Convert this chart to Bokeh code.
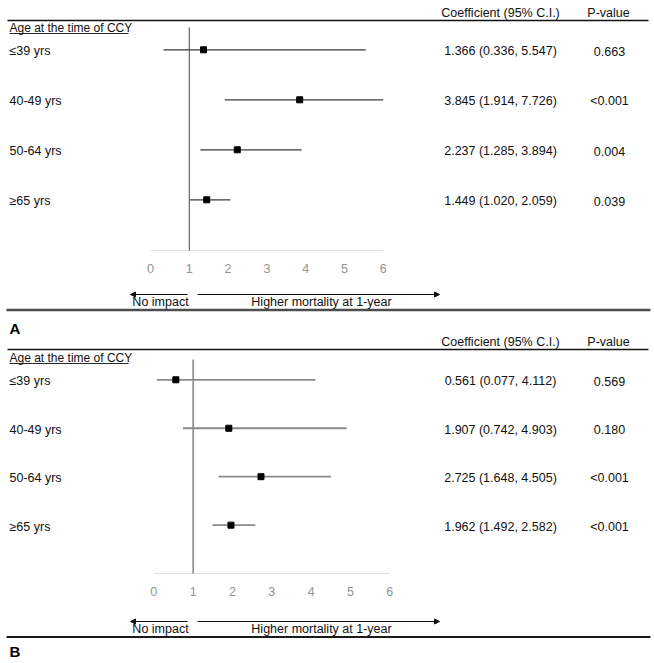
import numpy as np
from bokeh.plotting import figure
from bokeh.models import Range1d, ColumnDataSource, Arrow, NormalHead
from bokeh.core.properties import value
from bokeh.embed import file_html
from bokeh.resources import INLINE

# ---- data ----
ages = ["\u226439 yrs", "40-49 yrs", "50-64 yrs", "\u226565 yrs"]
coef_a = [1.366, 3.845, 2.237, 1.449]
low_a = [0.336, 1.914, 1.285, 1.020]
high_a = [5.547, 7.726, 3.894, 2.059]
p_a = ["0.663", "<0.001", "0.004", "0.039"]

coef_b = [0.561, 1.907, 2.725, 1.962]
low_b = [0.077, 0.742, 1.648, 1.492]
high_b = [4.112, 4.903, 4.505, 2.582]
p_b = ["0.569", "0.180", "<0.001", "<0.001"]

ticks = [0, 1, 2, 3, 4, 5, 6]
group_title = "Age at the time of CCY"
col_coef = "Coefficient (95% C.I.)"
col_p = "P-value"
arrow_left = "No impact"
arrow_right = "Higher mortality at 1-year"

# ---- layout (page pixels; the figure sits at the page origin) ----
W, H = 654, 663
PX0, PY0 = 0, 0
FONT = value("Liberation Sans")
FS = "12.5px"


def val_range(x_at0, px_per_unit):
    return Range1d((PX0 - x_at0) / px_per_unit, (PX0 + W - x_at0) / px_per_unit)


def row_range(y_first, dy):
    return Range1d((PY0 + H - y_first) / dy, (PY0 - y_first) / dy)


p = figure(width=W, height=H, min_border=0, output_backend="svg",
           toolbar_location=None, x_axis_location=None, y_axis_location=None,
           x_range=Range1d(PX0, PX0 + W), y_range=Range1d(PY0 + H, PY0))
p.grid.visible = False
p.outline_line_color = None
p.background_fill_color = "white"
p.border_fill_color = "white"

panels = [
    dict(name="A", coef=coef_a, low=low_a, high=high_a, pv=p_a,
         x0=150.0, ppu=38.8, y_first=49.3, dy=50.0,
         head_y=12.5, rule_top=20.0, title_y=27.0, vtop=27.0, base_y=250.0,
         tick_y=268.0, arrow_y=294.0, rule_bot=309.5, rule_bot_w=2.5,
         rule_bot_color="#4d4d4d", label_y=327.5, whisk="#3a3a3a", whisk_w=1.2),
    dict(name="B", coef=coef_b, low=low_b, high=high_b, pv=p_b,
         x0=153.3, ppu=39.33, y_first=379.3, dy=48.45,
         head_y=341.5, rule_top=349.0, title_y=357.0, vtop=359.0, base_y=573.0,
         tick_y=591.0, arrow_y=621.0, rule_bot=636.5, rule_bot_w=2.2,
         rule_bot_color="#1a1a1a", label_y=650.5, whisk="#8a8a8a", whisk_w=1.8),
]

xr = {}
yr = {}
for pan in panels:
    xr["v" + pan["name"]] = val_range(pan["x0"], pan["ppu"])
    yr["r" + pan["name"]] = row_range(pan["y_first"], pan["dy"])
p.extra_x_ranges = xr
p.extra_y_ranges = yr

for pan in panels:
    vx = "v" + pan["name"]
    ry = "r" + pan["name"]
    n = len(ages)
    idx = list(range(n))
    hi_clip = list(np.minimum(pan["high"], max(ticks)))
    src = ColumnDataSource(dict(
        row=idx, age=ages, coef=pan["coef"], low=pan["low"], high=hi_clip,
        ctext=[f"{c:.3f} ({l:.3f}, {h:.3f})" for c, l, h in zip(pan["coef"], pan["low"], pan["high"])],
        ptext=pan["pv"],
    ))

    # header texts and rules
    p.text(x=[500], y=[pan["head_y"]], text=[col_coef], text_font=FONT, text_font_size=FS,
           text_align="center", text_baseline="middle", text_color="#111111")
    p.text(x=[608], y=[pan["head_y"]], text=[col_p], text_font=FONT, text_font_size=FS,
           text_align="center", text_baseline="middle", text_color="#111111")
    p.segment(x0=[7], x1=[648], y0=[pan["rule_top"]], y1=[pan["rule_top"]],
              line_color="#111111", line_width=1.6)
    p.text(x=[9], y=[pan["title_y"]], text=[group_title], text_font=FONT, text_font_size="12px",
           text_align="left", text_baseline="middle", text_color="#111111")
    p.segment(x0=[9], x1=[128], y0=[pan["title_y"] + 6], y1=[pan["title_y"] + 6],
              line_color="#111111", line_width=0.9)

    # row labels and table values
    p.text(x=9, y="row", text="age", source=src, y_range_name=ry, text_font=FONT,
           text_font_size=FS, text_align="left", text_baseline="middle",
           y_offset=1.5, text_color="#111111")
    p.text(x=500, y="row", text="ctext", source=src, y_range_name=ry, text_font=FONT,
           text_font_size=FS, text_align="center", text_baseline="middle",
           y_offset=1.5, text_color="#111111")
    p.text(x=609, y="row", text="ptext", source=src, y_range_name=ry, text_font=FONT,
           text_font_size=FS, text_align="center", text_baseline="middle",
           y_offset=1.5, text_color="#111111")

    # axis baseline, reference line, ticks
    p.segment(x0=[min(ticks)], x1=[max(ticks)], y0=[pan["base_y"]], y1=[pan["base_y"]],
              x_range_name=vx, line_color="#e2e2e2", line_width=1.2)
    p.segment(x0=[1], x1=[1], y0=[pan["vtop"]], y1=[pan["base_y"]],
              x_range_name=vx, line_color="#555555", line_width=1.1)
    p.text(x=ticks, y=[pan["tick_y"]] * len(ticks), text=[str(t) for t in ticks],
           x_range_name=vx, text_font=FONT, text_font_size=FS, text_align="center",
           text_baseline="middle", text_color="#929292")

    # whiskers and points
    p.segment(x0="low", x1="high", y0="row", y1="row", source=src,
              x_range_name=vx, y_range_name=ry, line_color=pan["whisk"], line_width=pan["whisk_w"])
    p.scatter(x="coef", y="row", source=src, x_range_name=vx, y_range_name=ry,
              marker="square", size=6, fill_color="black", line_color="black")

    # direction arrows
    ay = pan["arrow_y"]
    p.add_layout(Arrow(x_start=187, y_start=ay, x_end=130, y_end=ay,
                       line_color="#111111", line_width=1,
                       end=NormalHead(size=5, fill_color="#111111", line_color="#111111")))
    p.add_layout(Arrow(x_start=197, y_start=ay, x_end=439, y_end=ay,
                       line_color="#111111", line_width=1,
                       end=NormalHead(size=5, fill_color="#111111", line_color="#111111")))
    p.text(x=[160], y=[ay + 7.5], text=[arrow_left], text_font=FONT, text_font_size=FS,
           text_align="center", text_baseline="middle", text_color="#111111")
    p.text(x=[321], y=[ay + 7.5], text=[arrow_right], text_font=FONT, text_font_size=FS,
           text_align="center", text_baseline="middle", text_color="#111111")

    # bottom rule and panel label
    p.segment(x0=[6], x1=[650], y0=[pan["rule_bot"]], y1=[pan["rule_bot"]],
              line_color=pan["rule_bot_color"], line_width=pan["rule_bot_w"])
    p.text(x=[9], y=[pan["label_y"]], text=[pan["name"]], text_font=FONT,
           text_font_size="15px", text_font_style="bold", text_align="left",
           text_baseline="middle", text_color="#000000")

open("out.html", "w").write(file_html(p, INLINE))
